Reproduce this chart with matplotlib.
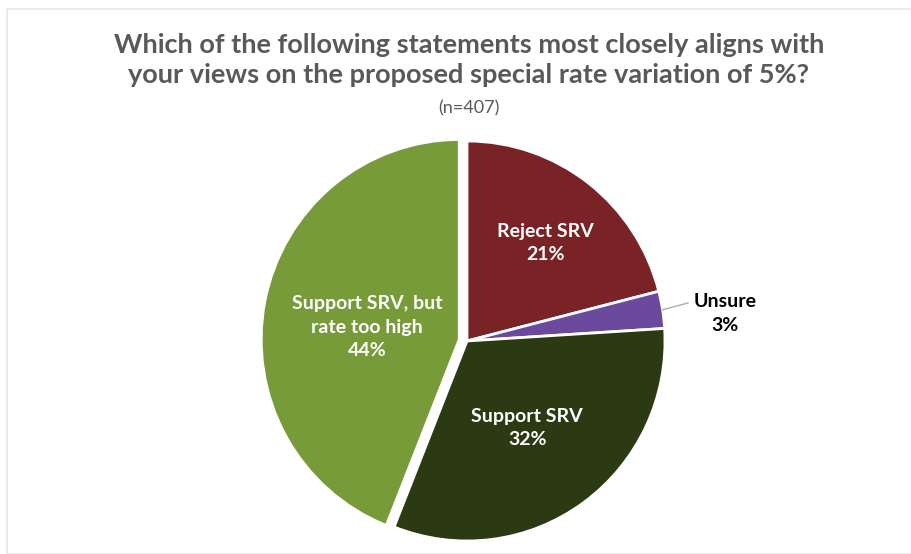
import numpy as np
import matplotlib.pyplot as plt
from matplotlib.patches import Rectangle

# Данні опитування
categories = ["Reject SRV", "Unsure", "Support SRV", "Support SRV, but\nrate too high"]
values = [21, 3, 32, 44]
colors = ["#7a2326", "#6b4a9e", "#2b3a13", "#789b3a"]
explode = [0, 0, 0, 0.04]

title = ("Which of the following statements most closely aligns with\n"
         "your views on the proposed special rate variation of 5%?")
subtitle = "(n=407)"

# Розміщення підписів: (відстань від центру, зсув кута, колір)
label_place = [(0.63, -1, "white"), (1.31, -3, "black"), (0.53, -1, "white"), (0.47, 3, "white")]

plt.rcParams['font.family'] = ['Lato', 'DejaVu Sans']

W, H = 912, 554
cx, cy, rx, ry = 467, 341, 198, 200

fig = plt.figure(figsize=(W / 100, H / 100), dpi=100)
fig.patches.append(Rectangle((7 / W, 0), 1, 1 - 9 / H, transform=fig.transFigure,
                             fill=False, edgecolor="#e6e6e6", lw=1.2))

# Вісь: центр кола в (cx, cy) px
ax = fig.add_axes([(cx - 1.1 * rx) / W, (H - cy - 1.1 * ry) / H, 2.2 * rx / W, 2.2 * ry / H])
wedges, _ = ax.pie(values, colors=colors, explode=explode, startangle=90, counterclock=False,
                   radius=1.0, wedgeprops=dict(edgecolor="white", linewidth=2))
ax.set_xlim(-1.1, 1.1)
ax.set_ylim(-1.1, 1.1)
ax.set_aspect("auto")
ax.axis("off")

for w, name, val, (dist, shift, col), ex in zip(wedges, categories, values, label_place, explode):
    mid = np.deg2rad((w.theta1 + w.theta2) / 2 + shift)
    x = (dist + ex) * np.cos(mid)
    y = (dist + ex) * np.sin(mid)
    ax.text(x, y, f"{name}\n{val}%", ha="center", va="center", color=col,
            fontsize=14, fontweight="bold", linespacing=1.45)
    if col == "black":
        m = np.deg2rad((w.theta1 + w.theta2) / 2)
        ax.plot([np.cos(m), 1.116], [np.sin(m), 0.19], color="#a6a6a6", lw=0.9, clip_on=False)

fig.text(0.514, 1 - 60 / H, title, ha="center", va="center", fontsize=19.5, fontweight="bold",
         color="#595959", linespacing=1.3)
fig.text(0.514, 1 - 108 / H, subtitle, ha="center", va="center", fontsize=13, color="#595959")

fig.savefig("out.png", dpi=100)
